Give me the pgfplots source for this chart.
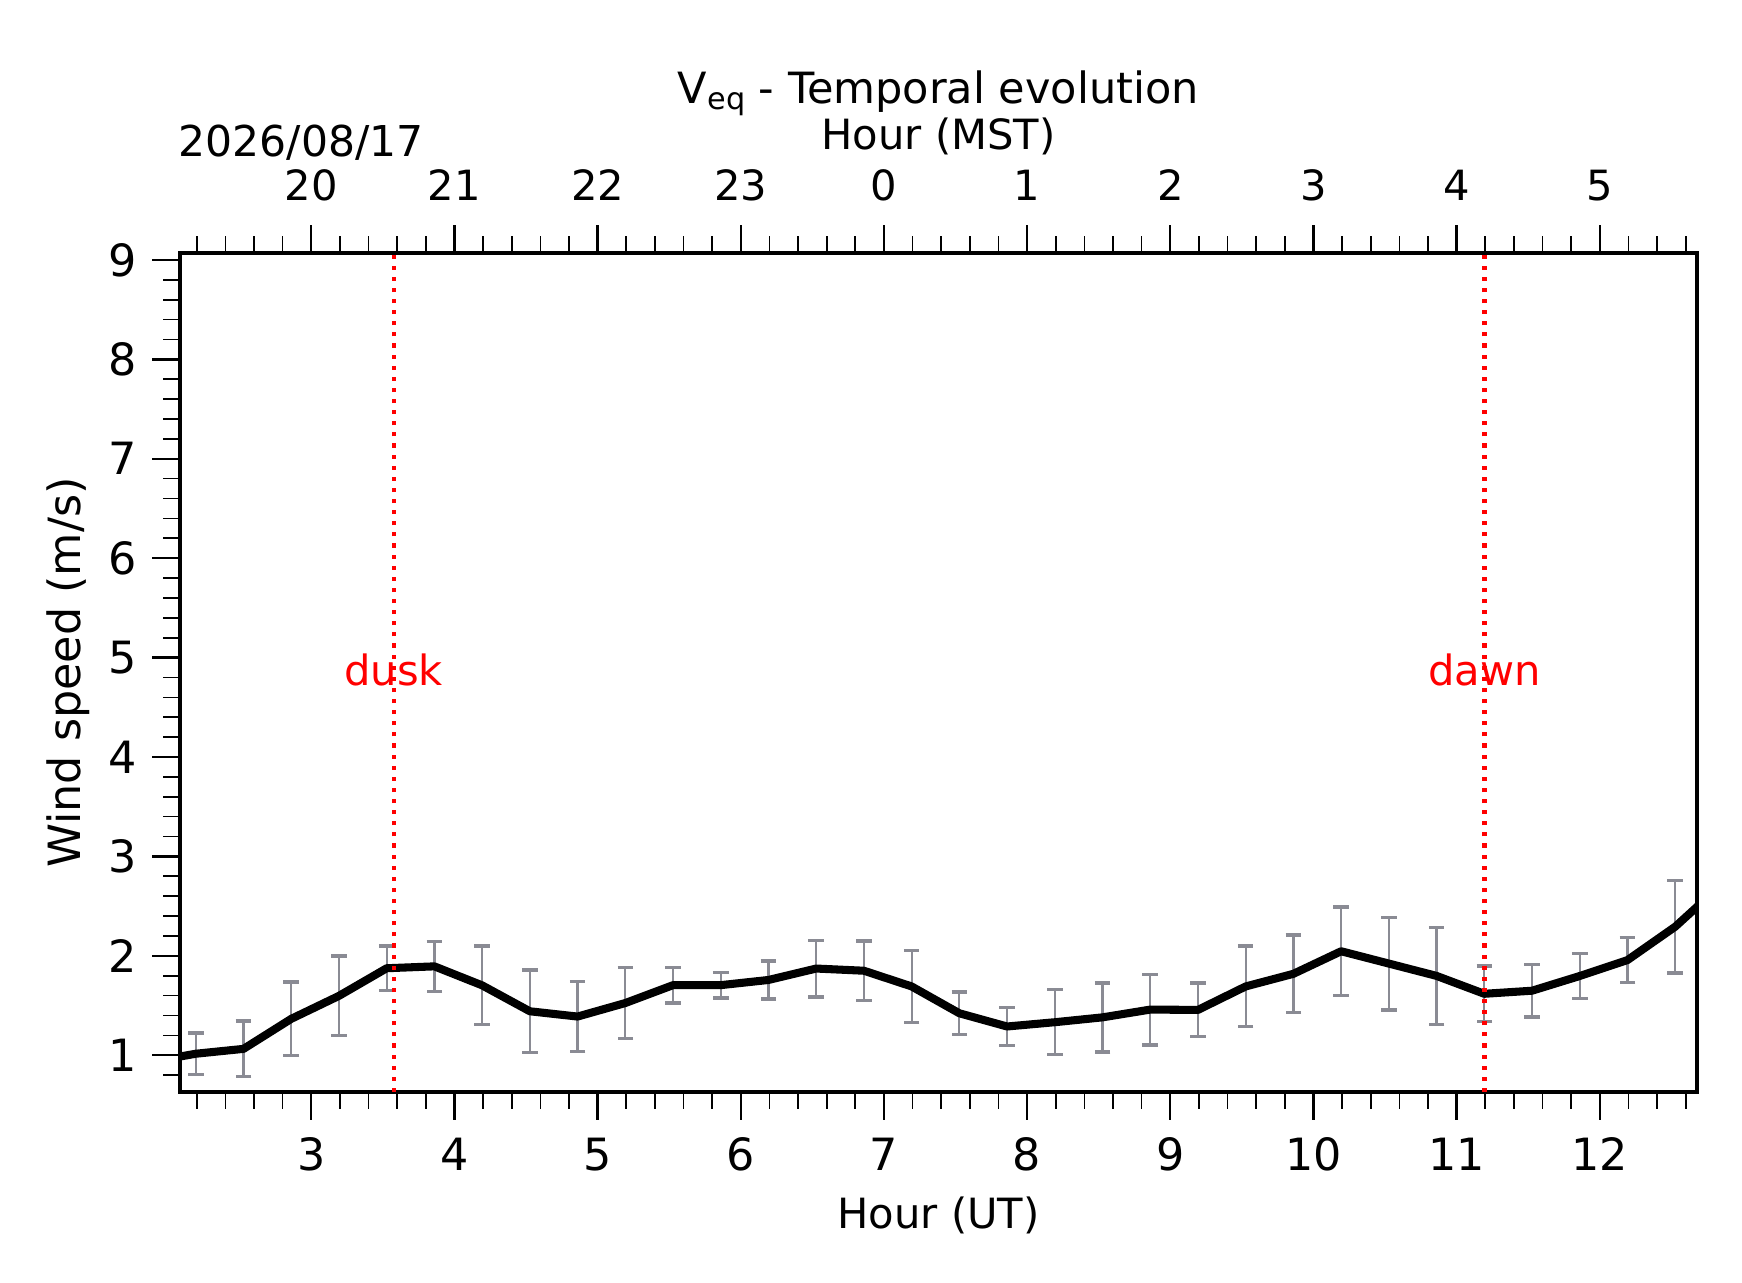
\documentclass[border=0pt]{standalone}
\usepackage{pgfplots}
\pgfplotsset{compat=1.18}
\usepackage{pgfplotstable}
\usepackage{fontspec}
\setmainfont{DejaVu Sans}
\definecolor{ebgray}{rgb}{0.54,0.545,0.58}

\pgfplotstableread{
t v e
2.1933 1.015 0.21
2.5267 1.064 0.28
2.8600 1.366 0.37
3.1933 1.597 0.40
3.5267 1.875 0.225
3.8600 1.894 0.25
4.1933 1.703 0.395
4.5267 1.442 0.415
4.8600 1.389 0.35
5.1933 1.525 0.36
5.5267 1.705 0.18
5.8600 1.705 0.13
6.1933 1.757 0.19
6.5267 1.872 0.285
6.8600 1.850 0.30
7.1933 1.692 0.362
7.5267 1.422 0.215
7.8600 1.289 0.193
8.1933 1.332 0.327
8.5267 1.381 0.347
8.8600 1.459 0.355
9.1933 1.456 0.27
9.5267 1.692 0.406
9.8600 1.819 0.39
10.1933 2.046 0.446
10.5267 1.922 0.466
10.8600 1.798 0.486
11.1933 1.618 0.28
11.5267 1.649 0.265
11.8600 1.797 0.225
12.1933 1.957 0.227
12.5267 2.293 0.466
}\bars

\pgfplotstableread{
t v
1.8600 0.93
2.1933 1.015
2.5267 1.064
2.8600 1.366
3.1933 1.597
3.5267 1.875
3.8600 1.894
4.1933 1.703
4.5267 1.442
4.8600 1.389
5.1933 1.525
5.5267 1.705
5.8600 1.705
6.1933 1.757
6.5267 1.872
6.8600 1.850
7.1933 1.692
7.5267 1.422
7.8600 1.289
8.1933 1.332
8.5267 1.381
8.8600 1.459
9.1933 1.456
9.5267 1.692
9.8600 1.819
10.1933 2.046
10.5267 1.922
10.8600 1.798
11.1933 1.618
11.5267 1.649
11.8600 1.797
12.1933 1.957
12.5267 2.293
12.8600 2.73
}\meanline

\begin{document}
\begin{tikzpicture}
\path[use as bounding box] (0,0) rectangle (627.12pt,461.52pt);
\begin{axis}[
  at={(64.8pt,68.4pt)}, anchor=south west,
  scale only axis, width=546.12pt, height=302.04pt,
  xmin=2.083, xmax=12.679, ymin=0.63, ymax=9.07,
  xtick={3,...,12}, ytick={1,...,9},
  minor xtick={2.2,2.4,...,12.6},
  minor ytick={0.8,1.0,...,9.0},
  xtick pos=left, ytick pos=left,
  tick align=outside,
  major tick length=10pt, minor tick length=6pt,
  major tick style={line width=0.85pt, black},
  minor tick style={line width=0.6pt, black},
  axis line style={line width=1.1pt},
  /pgf/number format/assume math mode=true,
  xticklabel style={font=\fontsize{16}{19}\selectfont, anchor=base, yshift=-18.1pt},
  yticklabel style={font=\fontsize{16}{19}\selectfont, anchor=east, inner sep=0pt, xshift=-5.5pt},
  xlabel={Hour (UT)},
  ylabel={Wind speed (m/s)},
  xlabel style={font=\fontsize{15}{18}\selectfont, at={(axis description cs:0.5,-0.163)}, anchor=base},
  ylabel style={font=\fontsize{16}{19}\selectfont, at={(axis description cs:-0.0659,0.5)}, anchor=base},
  title={V\raisebox{-0.16em}{\fontsize{10.9}{12}\selectfont eq} - Temporal evolution},
  title style={font=\fontsize{15.5}{18}\selectfont, at={(axis description cs:0.5,1.1589)}, anchor=base},
]
\addplot[draw=none, mark=none, forget plot,
  error bars/.cd, y dir=both, y explicit,
  error bar style={line width=0.8pt, draw=ebgray, solid},
  error mark options={rotate=90, draw=ebgray, line width=1.2pt, mark size=2.8pt}]
  table[x=t, y=v, y error=e] {\bars};
\addplot[black, line width=2.9pt, line join=round, mark=none] table[x=t, y=v] {\meanline};
\addplot[red, line width=1.5pt, dash pattern=on 1.5pt off 2.5pt] coordinates {(3.575,0.63) (3.575,9.07)};
\addplot[red, line width=1.5pt, dash pattern=on 1.5pt off 2.5pt] coordinates {(11.195,0.63) (11.195,9.07)};
\node[red, anchor=base, font=\fontsize{15}{18}\selectfont] at (axis cs:3.575,4.72) {dusk};
\node[red, anchor=base, font=\fontsize{15}{18}\selectfont] at (axis cs:11.195,4.72) {dawn};
\end{axis}
\begin{axis}[
  at={(64.8pt,68.4pt)}, anchor=south west,
  scale only axis, width=546.12pt, height=302.04pt,
  xmin=2.083, xmax=12.679, ymin=0.63, ymax=9.07,
  clip=false,
  axis x line*=top, axis y line=none,
  xtick={3,...,12}, xticklabels={20,21,22,23,0,1,2,3,4,5},
  minor xtick={2.2,2.4,...,12.6},
  tick align=outside,
  major tick length=10pt, minor tick length=6pt,
  major tick style={line width=0.85pt, black},
  minor tick style={line width=0.6pt, black},
  axis line style={line width=1.1pt},
  xticklabel style={font=\fontsize{15}{18}\selectfont, anchor=base, yshift=8.9pt},
  xlabel={Hour (MST)},
  xlabel style={font=\fontsize{15}{18}\selectfont, at={(axis description cs:0.5,1.1228)}, anchor=base},
]
\addplot[draw=none, mark=none] coordinates {(3,1) (12,1)};
\node[anchor=base west, inner sep=0pt, font=\fontsize{15.3}{18}\selectfont] at (axis description cs:-0.0013,1.1148) {2026/08/17};
\end{axis}
\end{tikzpicture}
\end{document}
